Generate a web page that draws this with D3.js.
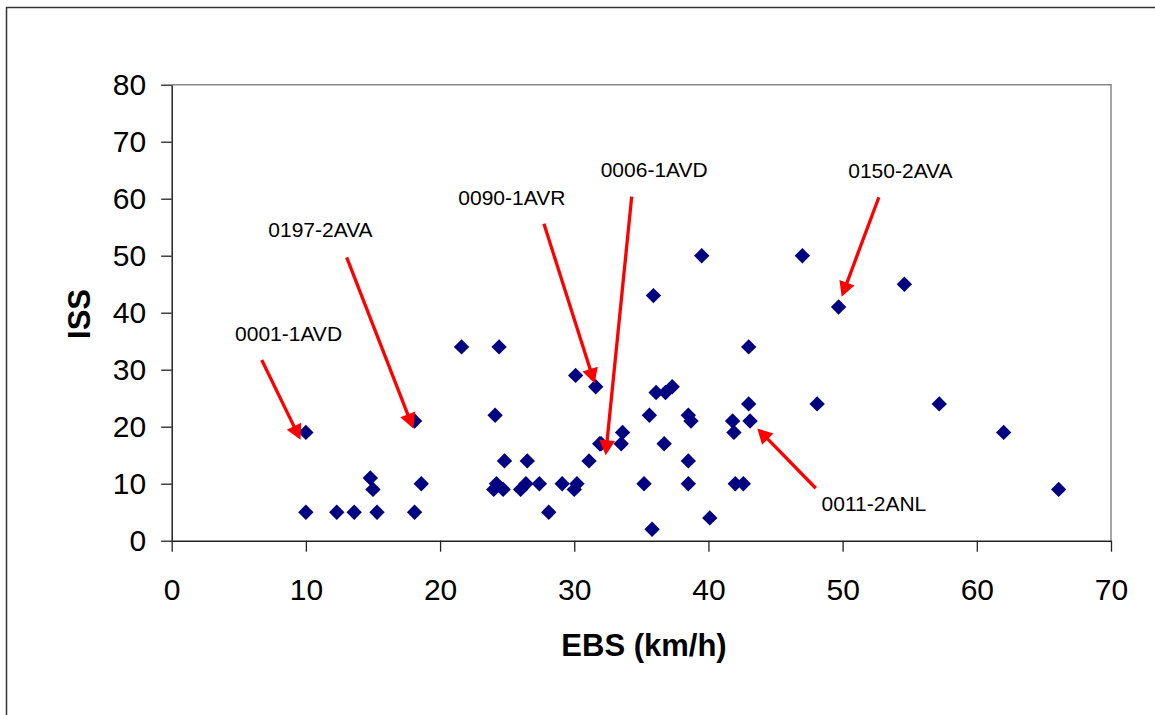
<!DOCTYPE html>
<html>
<head>
<meta charset="utf-8">
<script src="https://cdn.jsdelivr.net/npm/d3@7"></script>
<style>
  html, body { margin: 0; padding: 0; background: #fff; }
  svg { display: block; font-family: "Liberation Sans", Arial, sans-serif; }
</style>
</head>
<body>
<svg id="chart" width="1155" height="715"></svg>
<script>
// ---- data ----
const ebs = [10.0, 18.1, 10.0, 12.3, 13.6, 15.3, 18.1, 14.8, 15.0, 18.6,
             21.6, 24.4, 24.1, 30.1, 31.6, 35.9, 36.1, 36.8, 37.3, 35.6,
             38.5, 38.7, 41.8, 41.9, 33.6, 33.5, 32.0, 36.7, 31.1, 24.8,
             26.5, 38.5, 24.2, 24.0, 24.7, 26.4, 26.0, 27.4, 29.1, 30.2,
             30.0, 35.2, 38.5, 42.0, 42.6, 28.1, 35.8, 40.1, 39.5, 47.0,
             54.6, 49.7, 43.0, 43.0, 48.1, 57.2, 43.1, 62.0, 66.1, 31.9];
const iss = [19, 21, 5, 5, 5, 5, 5, 11, 9, 10,
             34, 34, 22, 29, 27, 43, 26, 26, 27, 22,
             22, 21, 21, 19, 19, 17, 17, 17, 14, 14,
             14, 14, 10, 9, 9, 10, 9, 10, 10, 10,
             9, 10, 10, 10, 10, 5, 2, 4, 50, 50,
             45, 41, 34, 24, 24, 24, 21, 19, 9, 17];
const xTicks = [0, 10, 20, 30, 40, 50, 60, 70];
const yTicks = [0, 10, 20, 30, 40, 50, 60, 70, 80];

// annotations (in data units: label anchor, arrow start, arrow tip)
const annLabels = ["0001-1AVD", "0197-2AVA", "0090-1AVR", "0006-1AVD", "0150-2AVA", "0011-2ANL"];
const annLabelX = [4.72, 7.2, 21.36, 31.97, 50.42, 48.43];
const annLabelY = [35.0, 53.3, 58.9, 63.75, 63.58, 5.26];
const annFromX  = [6.71, 13.04, 27.74, 34.28, 52.7, 48.0];
const annFromY  = [31.7, 49.7, 55.6, 60.35, 60.25, 9.2];
const annToX    = [9.6, 18.0, 31.52, 32.34, 49.93, 43.64];
const annToY    = [17.7, 19.7, 27.6, 15.0, 42.8, 19.7];

// ---- layout ----
const svg = d3.select("#chart");
const L = 171.7, R = 1111, T = 84.7, B = 540.7;
const x = d3.scaleLinear().domain([0, 70]).range([L, R]);
const y = d3.scaleLinear().domain([0, 80]).range([B, T]);

// outer border
svg.append("rect")
  .attr("x", 6.5).attr("y", 7.5).attr("width", 1160).attr("height", 720)
  .attr("fill", "none").attr("stroke", "#333").attr("stroke-width", 1.5);

// plot frame (top & right grey)
svg.append("path")
  .attr("d", `M${L},${T}H${R}V${B}`)
  .attr("fill", "none").attr("stroke", "#888").attr("stroke-width", 1.5);

// axes
const yAxis = svg.append("g").attr("transform", `translate(${L},0)`)
  .call(d3.axisLeft(y).tickValues(yTicks).tickSize(10.5).tickPadding(15).tickSizeOuter(0));
const xAxis = svg.append("g").attr("transform", `translate(0,${B})`)
  .call(d3.axisBottom(x).tickValues(xTicks).tickSize(11).tickPadding(27).tickSizeOuter(0));
[yAxis, xAxis].forEach(g => {
  g.select(".domain").attr("stroke", "#222").attr("stroke-width", 1.5);
  g.selectAll(".tick line").attr("stroke", "#222").attr("stroke-width", 1.3);
  g.selectAll(".tick text").attr("fill", "#000").style("font-size", "30px")
    .style("font-family", '"Liberation Sans", Arial, sans-serif');
});

// axis titles
svg.append("text")
  .attr("transform", "translate(90,314) rotate(-90)")
  .attr("text-anchor", "middle")
  .style("font-size", "31px").style("font-weight", "bold")
  .text("ISS");
svg.append("text")
  .attr("x", 644).attr("y", 656)
  .attr("text-anchor", "middle")
  .style("font-size", "31px").style("font-weight", "bold")
  .text("EBS (km/h)");

// points
const pts = ebs.map((v, i) => ({ x: v, y: iss[i] }));
svg.append("g").selectAll("path")
  .data(pts).join("path")
  .attr("transform", d => `translate(${x(d.x)},${y(d.y)}) rotate(45)`)
  .attr("d", d3.symbol().type(d3.symbolSquare).size(118))
  .attr("fill", "#000080");

// annotations
const ann = svg.append("g");
annLabels.forEach((t, i) => {
  ann.append("text")
    .attr("x", x(annLabelX[i])).attr("y", y(annLabelY[i]))
    .style("font-size", "21px").attr("fill", "#000")
    .text(t);
  const x1 = x(annFromX[i]), y1 = y(annFromY[i]);
  const x2 = x(annToX[i]), y2 = y(annToY[i]);
  const dx = x2 - x1, dy = y2 - y1, len = Math.hypot(dx, dy);
  const ux = dx / len, uy = dy / len;
  const hl = 15, hw = 8;
  const bx = x2 - ux * hl, by = y2 - uy * hl;
  ann.append("line")
    .attr("x1", x1).attr("y1", y1).attr("x2", bx + ux * 2).attr("y2", by + uy * 2)
    .attr("stroke", "#ff0000").attr("stroke-width", 3.3);
  ann.append("path")
    .attr("d", `M${x2},${y2}L${bx - uy * hw},${by + ux * hw}L${bx + uy * hw},${by - ux * hw}Z`)
    .attr("fill", "#ff0000");
});
</script>
</body>
</html>
